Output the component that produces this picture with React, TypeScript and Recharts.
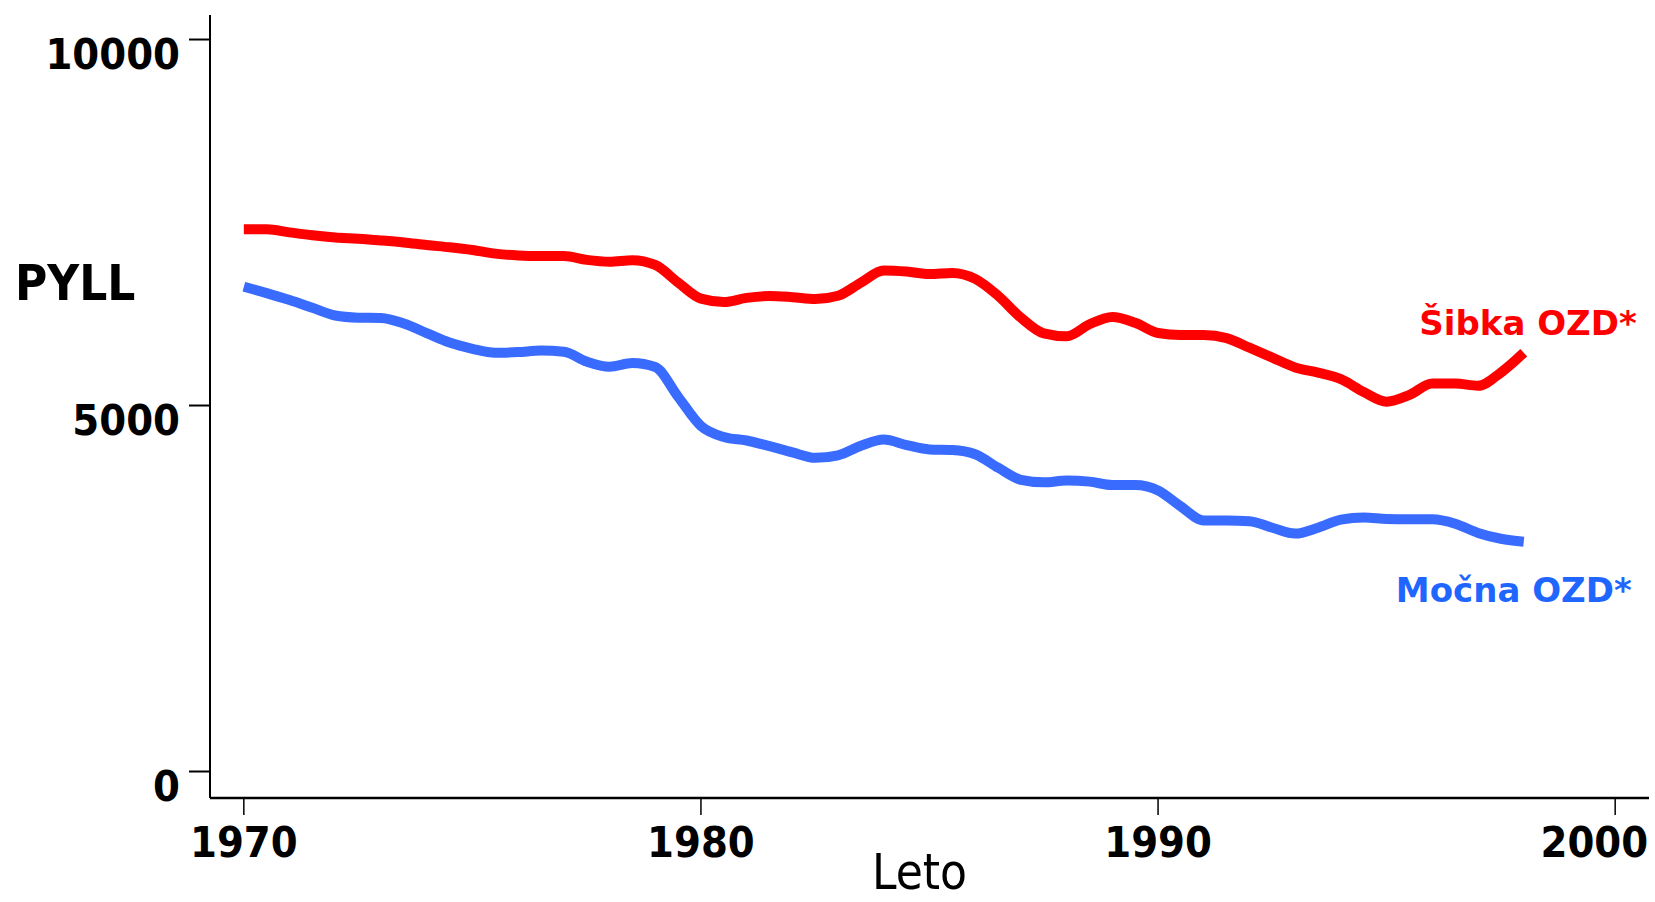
import React from 'react'
import { LineChart, Line, XAxis, YAxis, Label } from 'recharts'

// half-year readings, 1970 – 1998
const years = [
  1970, 1970.5, 1971, 1971.5, 1972, 1972.5, 1973, 1973.5, 1974, 1974.5,
  1975, 1975.5, 1976, 1976.5, 1977, 1977.5, 1978, 1978.5, 1979, 1979.5,
  1980, 1980.5, 1981, 1981.5, 1982, 1982.5, 1983, 1983.5, 1984, 1984.5,
  1985, 1985.5, 1986, 1986.5, 1987, 1987.5, 1988, 1988.5, 1989, 1989.5,
  1990, 1990.5, 1991, 1991.5, 1992, 1992.5, 1993, 1993.5, 1994, 1994.5,
  1995, 1995.5, 1996, 1996.5, 1997, 1997.5, 1998,
]

const sibka = [
  7407, 7407, 7365, 7325, 7295, 7278, 7255, 7228, 7192, 7162,
  7125, 7075, 7050, 7042, 7042, 6990, 6965, 6985, 6920, 6680,
  6460, 6415, 6470, 6496, 6480, 6455, 6500, 6680, 6845, 6830,
  6796, 6812, 6730, 6500, 6200, 5985, 5945, 6110, 6210, 6130,
  5990, 5963, 5963, 5920, 5790, 5655, 5520, 5450, 5360, 5185,
  5052, 5145, 5300, 5300, 5270, 5450, 5721,
]

const mocna = [
  6623, 6535, 6440, 6335, 6230, 6200, 6195, 6120, 5990, 5860,
  5775, 5720, 5730, 5750, 5735, 5600, 5530, 5580, 5525, 5120,
  4720, 4570, 4522, 4445, 4360, 4285, 4320, 4450, 4535, 4460,
  4400, 4392, 4335, 4150, 3985, 3950, 3975, 3960, 3914, 3914,
  3840, 3620, 3430, 3430, 3420, 3330, 3250, 3330, 3440, 3470,
  3450, 3445, 3445, 3385, 3260, 3180, 3139,
]

const xTicks = [1970, 1980, 1990, 2000]
const yTicks = [0, 5000, 10000]

const data = years.map((y, i) => ({ year: y, sibka: sibka[i], mocna: mocna[i] }))

const FONT = "'DejaVu Sans Condensed', 'DejaVu Sans', sans-serif"
const RED = '#ff0000'
const BLUE = '#3a6bff'

const YTick = (p: any) => (
  <text x={p.x - 9} y={p.y + 29} textAnchor="end" fontFamily={FONT} fontStretch="condensed"
    fontWeight="bold" fontSize={43} fill="#000">
    {p.payload.value}
  </text>
)

// last label is pulled in so it stays inside the frame
const XTick = (p: any) => {
  const last = p.payload.value === xTicks[xTicks.length - 1]
  return (
    <text x={last ? p.x + 33 : p.x} y={p.y + 42} textAnchor={last ? 'end' : 'middle'}
      fontFamily={FONT} fontStretch="condensed" fontWeight="bold" fontSize={43} fill="#000">
      {p.payload.value}
    </text>
  )
}

const endLabel = (text: string, color: string, dx: number, dy: number) => (p: any) => {
  if (p.index !== years.length - 1) return null
  return (
    <text key="lbl" x={p.x + dx} y={p.y + dy} textAnchor="end" fontFamily="'DejaVu Sans', sans-serif"
      fontWeight="bold" fontSize={34} fill={color}>
      {text}
    </text>
  )
}

export default function App() {
  return (
    <div style={{ position: 'absolute', left: 0, top: 0, background: '#fff' }}>
      <LineChart width={1655} height={902} data={data}
        margin={{ top: 15, right: 6, bottom: 0, left: 0 }}>
        <XAxis
          dataKey="year"
          type="number"
          domain={[1969.26, 2000.74]}
          ticks={xTicks}
          height={104}
          tickSize={17}
          tickMargin={0}
          tick={XTick}
          axisLine={{ stroke: '#000', strokeWidth: 2.5 }}
          tickLine={{ stroke: '#000', strokeWidth: 1.5 }}
        >
          <Label
            content={(p: any) => (
              <text x={p.viewBox.x + p.viewBox.width / 2 - 10} y={889} textAnchor="middle"
                fontFamily={FONT} fontStretch="condensed" fontSize={49} fill="#000">
                Leto
              </text>
            )}
          />
        </XAxis>
        <YAxis
          type="number"
          domain={[-362, 10335]}
          ticks={yTicks}
          width={210}
          tickSize={21}
          tickMargin={0}
          tick={YTick}
          axisLine={{ stroke: '#000', strokeWidth: 2 }}
          tickLine={{ stroke: '#000', strokeWidth: 2 }}
        >
          <Label
            content={() => (
              <text x={15} y={300} textAnchor="start" fontFamily={FONT} fontStretch="condensed"
                fontWeight="bold" fontSize={49} fill="#000">
                PYLL
              </text>
            )}
          />
        </YAxis>
        <Line type="monotone" dataKey="sibka" stroke={RED} strokeWidth={10} dot={false}
          isAnimationActive={false} label={endLabel('Šibka OZD*', RED, 113, -18)} />
        <Line type="monotone" dataKey="mocna" stroke={BLUE} strokeWidth={10} dot={false}
          isAnimationActive={false} label={endLabel('Močna OZD*', '#1f66ff', 108, 60)} />
      </LineChart>
    </div>
  )
}
